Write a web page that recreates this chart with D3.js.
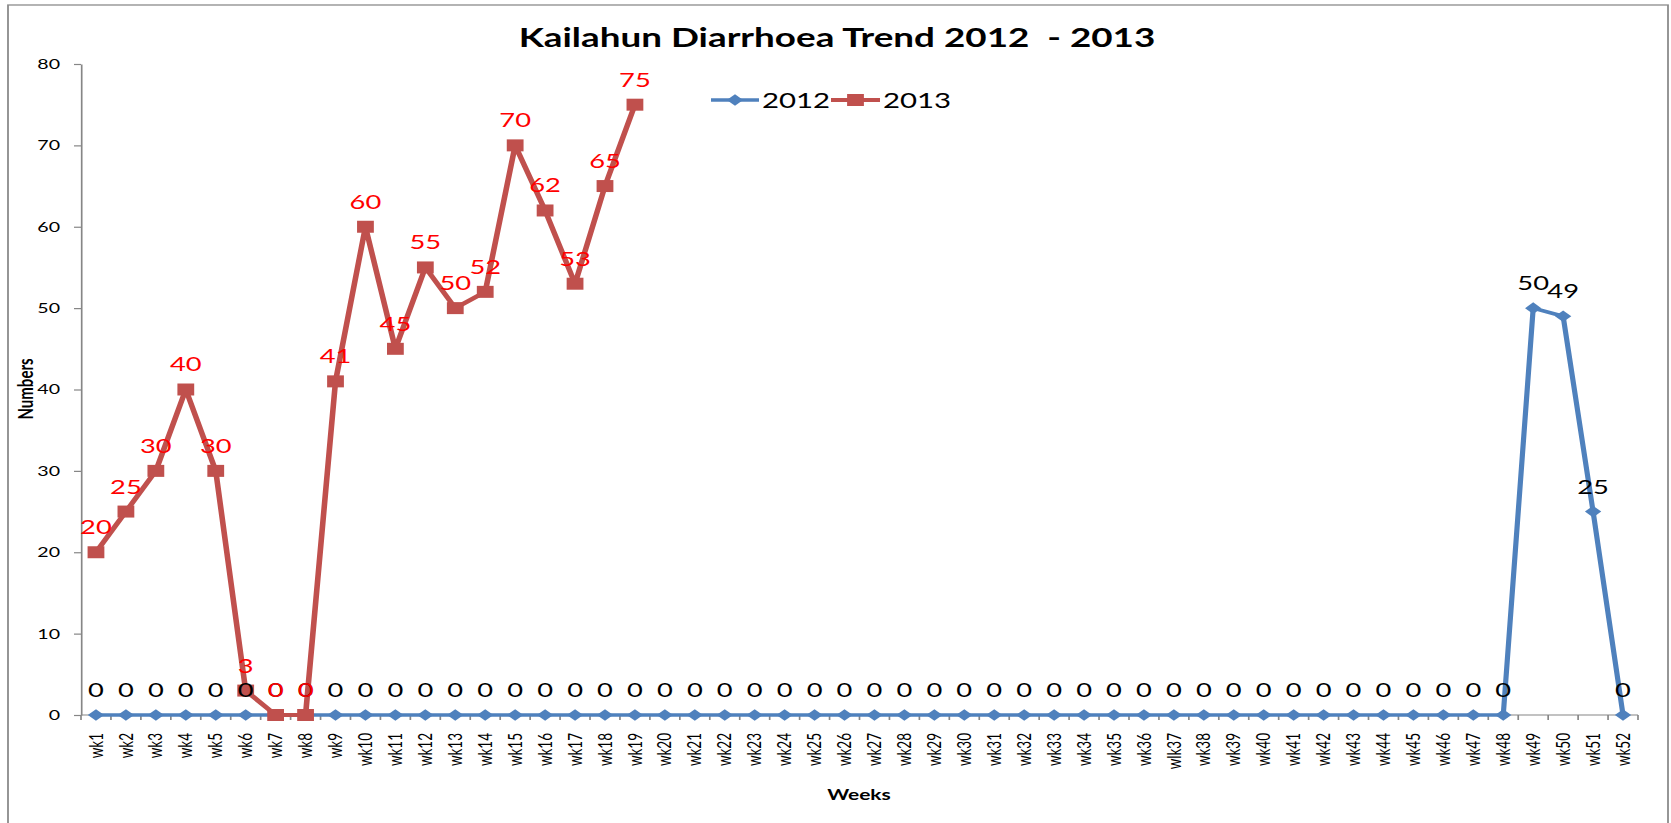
<!DOCTYPE html>
<html><head><meta charset="utf-8">
<script src="https://cdn.jsdelivr.net/npm/d3@7"></script>
<style>html,body{margin:0;padding:0;background:#fff;overflow:hidden}</style>
</head><body>
<svg id="chart" width="1671" height="823"></svg>
<script>
// ---- data ----
const weeks = ["wk1","wk2","wk3","wk4","wk5","wk6","wk7","wk8","wk9","wk10","wk11","wk12","wk13","wk14","wk15","wk16","wk17","wk18","wk19","wk20","wk21","wk22","wk23","wk24","wk25","wk26","wk27","wk28","wk29","wk30","wk31","wk32","wk33","wk34","wk35","wk36","wlk37","wk38","wk39","wk40","wk41","wk42","wk43","wk44","wk45","wk46","wk47","wk48","wk49","wk50","wk51","wk52"];
const values2012 = [0,0,0,0,0,0,0,0,0,0,0,0,0,0,0,0,0,0,0,0,0,0,0,0,0,0,0,0,0,0,0,0,0,0,0,0,0,0,0,0,0,0,0,0,0,0,0,0,50,49,25,0];
const values2013 = [20,25,30,40,30,3,0,0,41,60,45,55,50,52,70,62,53,65,75];
const yTicks = [0,10,20,30,40,50,60,70,80];
const seriesNames = ["2012","2013"];
const titleText = "Kailahun Diarrhoea Trend 2012  - 2013";
const xTitle = "Weeks";
const yTitle = "Numbers";

// ---- layout ----
const SX = 1.4; // horizontal stretch of the original picture
const FONT = "Lato, 'Open Sans', sans-serif";
const C12 = "#4F81BD", C13 = "#C0504D";

const svg = d3.select("#chart");
const root = svg.append("g").attr("transform", `scale(${SX},1)`);

root.append("rect")
  .attr("x", 8/SX).attr("y", 5)
  .attr("width", (1668-8)/SX).attr("height", 860)
  .attr("fill", "#fff").attr("stroke", "#8c8c8c").attr("stroke-width", 1.3);

const x = d3.scaleBand().domain(weeks).range([81/SX, 1638/SX]);
const y = d3.scaleLinear().domain([0, 80]).range([715, 64]);
const cx = w => x(w) + x.bandwidth()/2;

// y axis
const yAxis = d3.axisLeft(y).tickValues(yTicks).tickSize(5).tickSizeOuter(0).tickPadding(10);
const gy = root.append("g").attr("transform", `translate(${x.range()[0]},0)`).call(yAxis);
gy.select(".domain").attr("stroke", "#868686").attr("stroke-width", 1.2);
gy.selectAll(".tick line").attr("stroke", "#868686").attr("stroke-width", 1.2);
gy.selectAll(".tick text").attr("font-family", FONT).attr("font-size", 14).attr("fill", "#000");

// x axis
const gx = root.append("g");
gx.append("line")
  .attr("x1", x.range()[0]).attr("x2", x.range()[1])
  .attr("y1", y(0)).attr("y2", y(0))
  .attr("stroke", "#868686").attr("stroke-width", 1.2);
const bounds = weeks.map(w => x(w)).concat([x.range()[1]]);
gx.selectAll("line.tk").data(bounds).join("line").attr("class", "tk")
  .attr("x1", d => d).attr("x2", d => d)
  .attr("y1", y(0)).attr("y2", y(0) + 5)
  .attr("stroke", "#868686").attr("stroke-width", 1.2);
gx.selectAll("text").data(weeks).join("text")
  .attr("transform", w => `translate(${cx(w)},733) rotate(-90)`)
  .attr("dy", "0.35em")
  .attr("text-anchor", "end")
  .attr("font-family", FONT).attr("font-size", 13.5).attr("fill", "#000")
  .text(w => w);

// axis titles
root.append("text").attr("x", 859/SX).attr("y", 800)
  .attr("text-anchor", "middle").attr("font-family", FONT).attr("font-weight", "bold")
  .attr("font-size", 15).attr("fill", "#000").text(xTitle);
root.append("text").attr("transform", `translate(${33/SX},389) rotate(-90)`)
  .attr("text-anchor", "middle").attr("font-family", FONT).attr("font-weight", "bold")
  .attr("font-size", 15).attr("fill", "#000").text(yTitle);

// title
root.append("text").attr("x", 837/SX).attr("y", 47)
  .attr("text-anchor", "middle").attr("font-family", FONT).attr("font-weight", "bold")
  .attr("font-size", 26.3).attr("fill", "#000").attr("xml:space", "preserve")
  .style("white-space", "pre").text(titleText);

// series
const line = d3.line().x(d => cx(d.w)).y(d => y(d.v));
const d12 = values2012.map((v, i) => ({ w: weeks[i], v }));
const d13 = values2013.map((v, i) => ({ w: weeks[i], v }));
const diamond = d3.symbol().type(d3.symbolSquare).size(68);
const square = d3.symbol().type(d3.symbolSquare).size(144);

function drawSeries(data, color, sym, rot, sw) {
  const g = root.append("g");
  g.append("path").datum(data).attr("d", line)
    .attr("fill", "none").attr("stroke", color).attr("stroke-width", sw)
    .attr("stroke-linejoin", "round");
  g.selectAll("path.m").data(data).join("path").attr("class", "m")
    .attr("d", sym)
    .attr("transform", d => `translate(${cx(d.w)},${y(d.v)}) rotate(${rot})`)
    .attr("fill", color);
}
drawSeries(d12, C12, diamond, 45, 3.7);
drawSeries(d13, C13, square, 0, 4);

function drawLabels(data, color) {
  root.append("g").selectAll("text").data(data).join("text")
    .attr("x", d => cx(d.w)).attr("y", d => y(d.v) - 18)
    .attr("text-anchor", "middle")
    .attr("font-family", FONT).attr("font-size", 19.5).attr("fill", color)
    .text(d => d.v);
}
drawLabels(d12, "#000");
drawLabels(d13, "#FF0000");

// legend
const lg = root.append("g");
const ly = 100;
const legendItems = [
  { name: seriesNames[0], color: C12, sym: diamond, rot: 45, x0: 711/SX, x1: 759/SX, tx: 762/SX, sw: 3.7 },
  { name: seriesNames[1], color: C13, sym: square, rot: 0, x0: 831/SX, x1: 880/SX, tx: 883/SX, sw: 4 }
];
legendItems.forEach(it => {
  lg.append("line").attr("x1", it.x0).attr("x2", it.x1).attr("y1", ly).attr("y2", ly)
    .attr("stroke", it.color).attr("stroke-width", it.sw);
  lg.append("path").attr("d", it.sym)
    .attr("transform", `translate(${(it.x0 + it.x1)/2},${ly}) rotate(${it.rot})`)
    .attr("fill", it.color);
  lg.append("text").attr("x", it.tx).attr("y", ly + 8)
    .attr("font-family", FONT).attr("font-size", 21).attr("fill", "#000").text(it.name);
});
</script>
</body></html>
